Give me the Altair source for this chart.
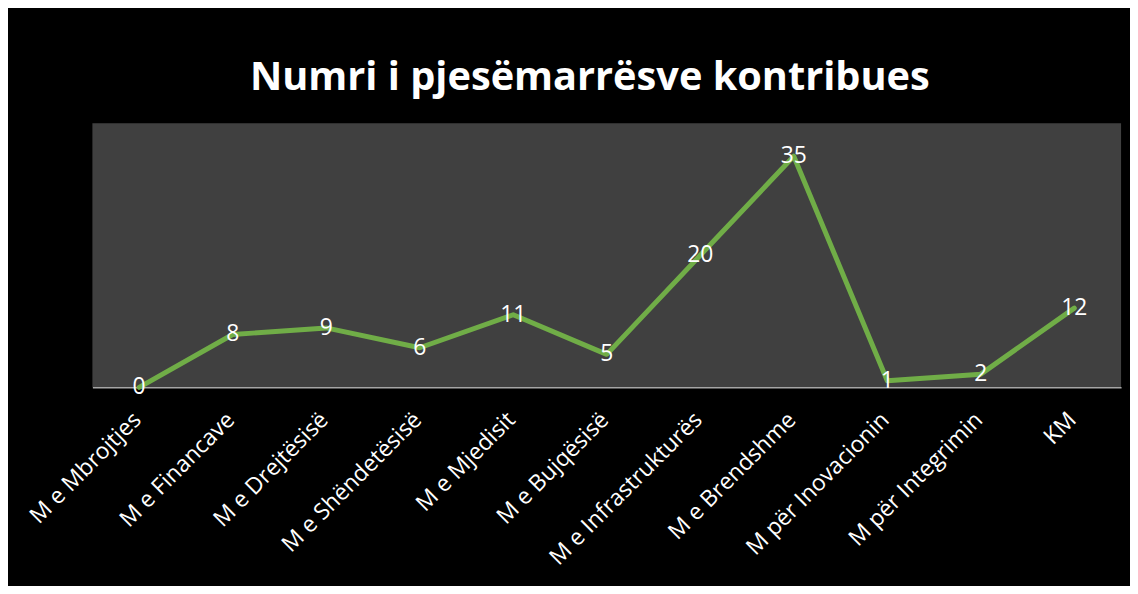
import altair as alt
import pandas as pd

categories = ["M e Mbrojtjes", "M e Financave", "M e Drejtësisë", "M e Shëndetësisë",
              "M e Mjedisit", "M e Bujqësisë", "M e Infrastrukturës", "M e Brendshme",
              "M për Inovacionin", "M për Integrimin", "KM"]
values = [0, 8, 9, 6, 11, 5, 20, 35, 1, 2, 12]

df = pd.DataFrame({"cat": categories, "val": values})

FONT = "Open Sans"

x = alt.X("cat:N", sort=None, title=None,
          scale=alt.Scale(padding=0.5),
          axis=alt.Axis(labelAngle=-45, labelAlign="right", labelBaseline="top",
                        labelPadding=21, labelOffset=-10, labelColor="white",
                        labelFont=FONT, labelFontSize=23, labelLimit=500, ticks=False,
                        domainColor="#A6A6A6", domainWidth=1.5, grid=False))
y = alt.Y("val:Q", title=None, scale=alt.Scale(domain=[0, 40], nice=False),
          axis=None)

line = alt.Chart(df).mark_line(color="#70AD47", strokeWidth=5,
                               strokeJoin="round", strokeCap="round").encode(x=x, y=y)
labels = alt.Chart(df).mark_text(color="white", font=FONT, fontSize=23,
                                 baseline="middle", align="center").encode(
    x=alt.X("cat:N", sort=None), y="val:Q", text="val:Q")

chart = alt.layer(line, labels).properties(
    width=1036, height=266,
    title=alt.TitleParams("Numri i pjesëmarrësve kontribues", font=FONT,
                          fontSize=40, fontWeight="bold", color="white",
                          anchor="middle", dx=-17, offset=-7,
                          baseline="alphabetic"),
    autosize=alt.AutoSizeParams(type="none"),
    padding={"left": 85, "top": 114, "right": 9, "bottom": 198},
    background="black",
).configure_view(fill="#404040", stroke=None)

chart.save("out.html", embed_options={"renderer": "svg", "actions": False})
